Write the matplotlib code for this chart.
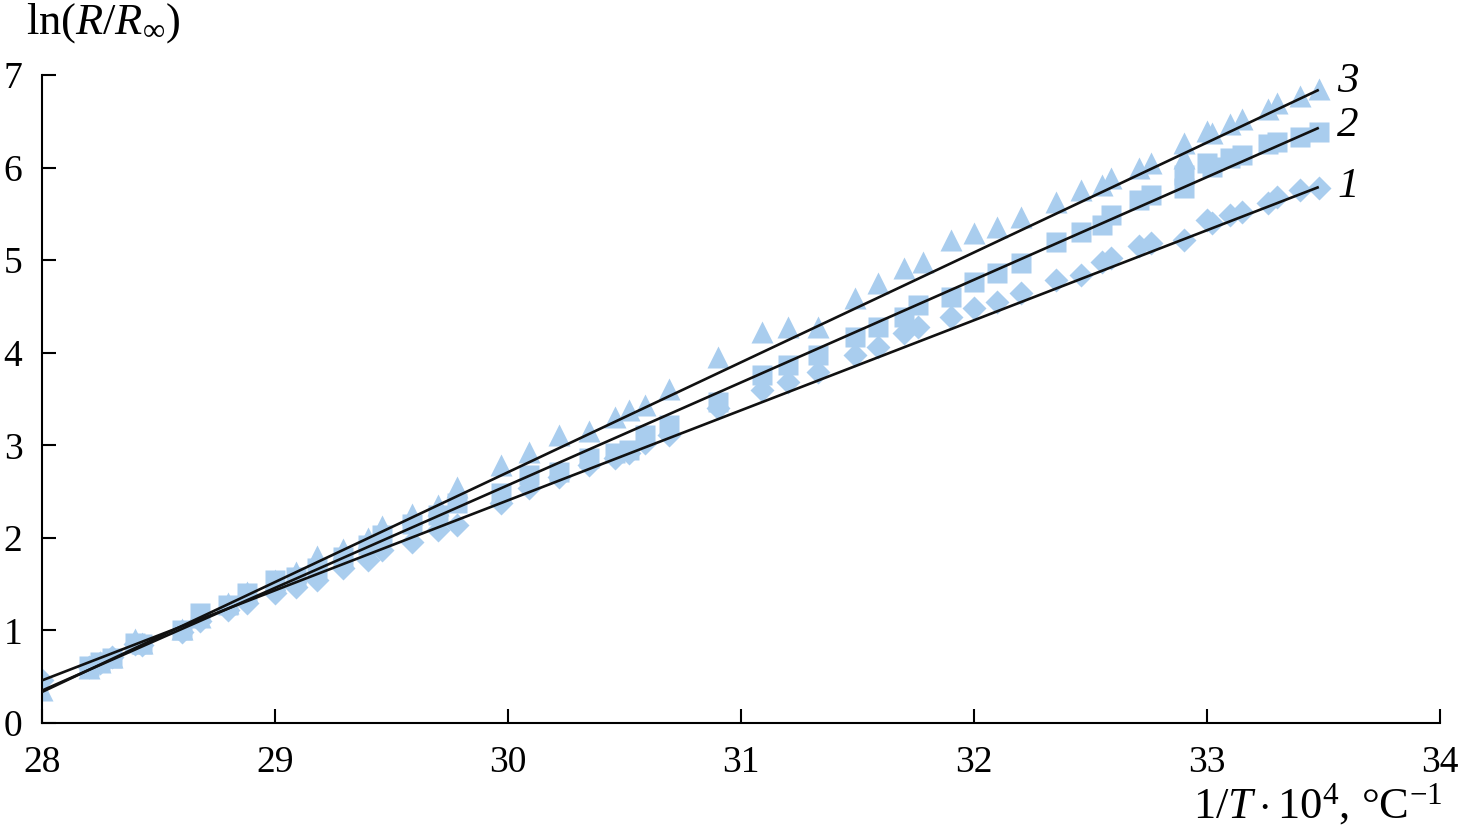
import matplotlib
matplotlib.use("Agg")
import matplotlib.pyplot as plt
import numpy as np

plt.rcParams['font.family'] = ['Liberation Serif', 'DejaVu Serif']
plt.rcParams['mathtext.fontset'] = 'custom'
plt.rcParams['mathtext.rm'] = 'Liberation Serif'
plt.rcParams['mathtext.it'] = 'Liberation Serif:italic'
plt.rcParams['mathtext.bf'] = 'Liberation Serif:bold'

# ---- data ----
x1 = [28.0, 28.2, 28.25, 28.3, 28.4, 28.43, 28.6, 28.68, 28.8, 28.88, 29.0, 29.09, 29.18,
      29.29, 29.4, 29.46, 29.59, 29.7, 29.78, 29.97, 30.09, 30.22, 30.35, 30.46, 30.52,
      30.59, 30.69, 30.9, 31.09, 31.2, 31.33, 31.49, 31.59, 31.7, 31.76, 31.9, 32.0, 32.1,
      32.2, 32.35, 32.46, 32.55, 32.59, 32.71, 32.76, 32.9, 33.0, 33.02, 33.1, 33.15,
      33.26, 33.3, 33.4, 33.48]
y1 = [0.46, 0.60, 0.65, 0.71, 0.85, 0.84, 0.98, 1.10, 1.22, 1.30, 1.40, 1.47, 1.55,
      1.68, 1.76, 1.87, 1.96, 2.08, 2.14, 2.38, 2.54, 2.66, 2.79, 2.86, 2.92,
      3.03, 3.11, 3.40, 3.60, 3.68, 3.79, 3.98, 4.06, 4.21, 4.28, 4.39, 4.48, 4.55,
      4.65, 4.79, 4.84, 4.98, 5.02, 5.15, 5.18, 5.22, 5.43, 5.40, 5.49, 5.52,
      5.62, 5.68, 5.76, 5.78]

x2 = [28.2, 28.25, 28.3, 28.4, 28.43, 28.6, 28.68, 28.8, 28.88, 29.0, 29.09, 29.18,
      29.29, 29.4, 29.46, 29.59, 29.7, 29.78, 29.97, 30.09, 30.22, 30.35, 30.46, 30.52,
      30.59, 30.69, 30.9, 31.09, 31.2, 31.33, 31.49, 31.59, 31.7, 31.76, 31.9, 32.0, 32.1,
      32.2, 32.35, 32.46, 32.55, 32.59, 32.71, 32.76, 32.9, 32.9, 33.0, 33.02, 33.1, 33.15,
      33.26, 33.3, 33.4, 33.48]
y2 = [0.62, 0.66, 0.70, 0.86, 0.85, 1.00, 1.19, 1.28, 1.40, 1.55, 1.58, 1.68,
      1.79, 1.92, 2.03, 2.15, 2.25, 2.38, 2.49, 2.68, 2.71, 2.86, 2.92, 2.95,
      3.11, 3.22, 3.47, 3.76, 3.87, 3.98, 4.17, 4.28, 4.39, 4.52, 4.60, 4.76, 4.86,
      4.97, 5.20, 5.30, 5.38, 5.49, 5.65, 5.70, 5.78, 5.92, 6.05, 6.01, 6.10, 6.14,
      6.25, 6.28, 6.33, 6.38]

x3 = [28.0, 28.2, 28.25, 28.3, 28.4, 28.43, 28.6, 28.68, 28.8, 28.88, 29.0, 29.09, 29.18,
      29.29, 29.4, 29.46, 29.59, 29.7, 29.78, 29.97, 30.09, 30.22, 30.35, 30.46, 30.52,
      30.59, 30.69, 30.9, 31.09, 31.2, 31.33, 31.49, 31.59, 31.7, 31.78, 31.9, 32.0, 32.1,
      32.2, 32.35, 32.46, 32.55, 32.59, 32.71, 32.76, 32.9, 32.9, 33.0, 33.02, 33.1, 33.15,
      33.26, 33.3, 33.4, 33.48]
y3 = [0.36, 0.59, 0.66, 0.71, 0.91, 0.86, 1.02, 1.15, 1.30, 1.42, 1.55, 1.63, 1.80,
      1.88, 2.00, 2.13, 2.26, 2.35, 2.55, 2.79, 2.93, 3.11, 3.15, 3.31, 3.38,
      3.44, 3.61, 3.95, 4.22, 4.28, 4.28, 4.59, 4.75, 4.92, 4.98, 5.22, 5.29, 5.36,
      5.47, 5.63, 5.76, 5.81, 5.89, 6.00, 6.05, 6.10, 6.27, 6.40, 6.37, 6.47, 6.52,
      6.63, 6.70, 6.77, 6.85]

# fitted lines: endpoints (x) and values
fit_x = [28.0, 33.48]
fit1 = [0.46, 5.79]
fit2 = [0.35, 6.43]
fit3 = [0.335, 6.84]
curve_labels = ['1', '2', '3']
label_dy = [0.0, 0.02, 0.09]

xticks = [28, 29, 30, 31, 32, 33, 34]
yticks = [0, 1, 2, 3, 4, 5, 6, 7]

mcolor = '#a9cdee'

fig = plt.figure(figsize=(14.61, 8.38), dpi=100)
ax = fig.add_axes([0.0287, 0.1372, 0.9569, 0.7733])

ax.plot(x1, y1, linestyle='none', marker='D', ms=12.5, color=mcolor, mec='none', zorder=2)
ax.plot(x2, y2, linestyle='none', marker='s', ms=14, color=mcolor, mec='none', zorder=2)
ax.plot(x3, y3, linestyle='none', marker='^', ms=15.5, color=mcolor, mec='none', zorder=2)

for fy in (fit1, fit2, fit3):
    ax.plot(fit_x, fy, color='#111111', lw=1.9, zorder=3, solid_capstyle='butt')

for lab, fy, dy in zip(curve_labels, (fit1, fit2, fit3), label_dy):
    ax.text(fit_x[1] + 0.08, fy[1] + dy, lab, fontsize=31, fontstyle='italic',
            ha='left', va='center')

ax.set_xlim(28, 34)
ax.set_ylim(0, 7)
ax.set_xticks(xticks)
ax.set_yticks(yticks)
for s in ('top', 'right'):
    ax.spines[s].set_visible(False)
for s in ('left', 'bottom'):
    ax.spines[s].set_linewidth(1.5)
ax.tick_params(direction='in', length=10, width=1.5, labelsize=27)
ax.tick_params(axis='x', pad=16)
ax.tick_params(axis='y', pad=14)

fig.text(0.018, 0.972, r'$\mathrm{ln}(R/R_\infty)$', fontsize=32, ha='left', va='center')
fig.text(0.987, 0.04, r'$1/T\cdot10^4$, °C$^{-1}$', fontsize=32, ha='right', va='center')

fig.savefig('out.png', dpi=100)
